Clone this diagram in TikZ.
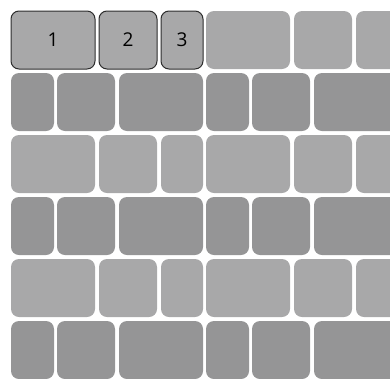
\documentclass[tikz,border=0pt]{standalone}
\usepackage{fontspec}
\setmainfont{Open Sans}
\usetikzlibrary{positioning}

\definecolor{tilelight}{RGB}{168,168,169}
\definecolor{tiledark}{RGB}{149,149,150}
\definecolor{tileedge}{RGB}{45,45,45}

\begin{document}
\begin{tikzpicture}[
    x=1pt, y=-1pt,
    tile/.style={rectangle, rounded corners=8pt, inner sep=0pt, outer sep=0pt, minimum height=58pt, anchor=north west},
    lighttile/.style={tile, fill=tilelight},
    darktile/.style={tile, fill=tiledark},
    keytile/.style={lighttile, draw=tileedge, line width=1pt, font=\fontsize{19}{19}\selectfont}
]
\useasboundingbox (0,0) rectangle (390,378);
\clip (0,0) rectangle (390,378);

% Top row: the three numbered tiles
\node[keytile, minimum width=84pt] (key1) at (11,11) {1};
\node[keytile, minimum width=58pt, right=4pt of key1.north east, anchor=north west] (key2) {2};
\node[keytile, minimum width=42pt, right=4pt of key2.north east, anchor=north west] (key3) {3};
\foreach \dx/\w/\k in {0/84/a, 88/58/b, 150/42/c} {
  \node[lighttile, minimum width=\w pt] (tile-0-1\k) at ({206+\dx},11) {};
}

% Light rows
\foreach \r in {2,4} {
  \foreach \s in {0,1} {
    \foreach \dx/\w/\k in {0/84/a, 88/58/b, 150/42/c} {
      \node[lighttile, minimum width=\w pt] (tile-\r-\s\k) at ({11+195*\s+\dx},{11+62*\r}) {};
    }
  }
}

% Dark rows
\foreach \r in {1,3,5} {
  \foreach \s in {0,1} {
    \foreach \dx/\w/\k in {0/43/a, 46/58/b, 108/84/c} {
      \node[darktile, minimum width=\w pt] (tile-\r-\s\k) at ({11+195*\s+\dx},{11+62*\r}) {};
    }
  }
}

\end{tikzpicture}
\end{document}
